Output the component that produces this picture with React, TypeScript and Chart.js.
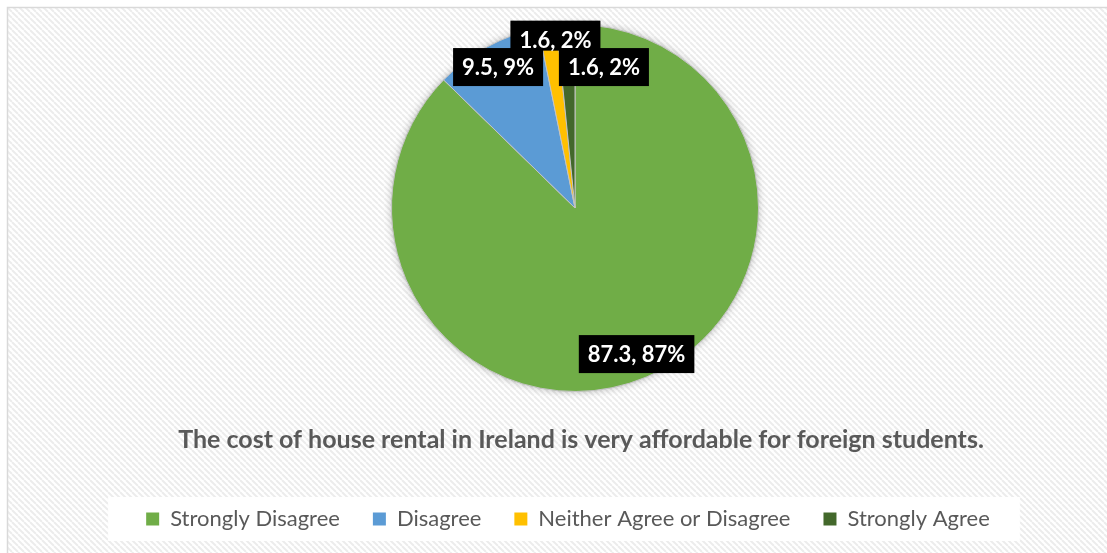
import React, { useEffect, useRef } from "react";
import { Chart, registerables } from "chart.js";

Chart.register(...registerables);

// ---------- data ----------
const categories = ["Strongly Disagree", "Disagree", "Neither Agree or Disagree", "Strongly Agree"];
const values = [87.3, 9.5, 1.6, 1.6];
const percentLabels = ["87%", "9%", "2%", "2%"];
const sliceColors = ["#70AD47", "#5B9BD5", "#FFC000", "#43682B"];
const chartTitle = "The cost of house rental in Ireland is very affordable for foreign students.";

// ---------- label placement (style, not data) ----------
const labelRadial = [0.864, 0.875, 0.928, 0.769];
const labelNudgeX = [0, 0, 6, 36];
const labelBoxH = [38, 38, 30, 38];
const labelDrawOrder = [2, 1, 3, 0];

const FONT = "Lato, 'Open Sans', 'DejaVu Sans', sans-serif";
const W = 1107;
const H = 553;
const LEGEND_FONT = 22;
const LEGEND_PAD = 33;
const LEGEND_SHIFT_X = -7;
const TITLE_SHIFT_X = 6;

function makePattern(ctx: CanvasRenderingContext2D) {
  const s = 6;
  const c = document.createElement("canvas");
  c.width = s;
  c.height = s;
  const p = c.getContext("2d")!;
  p.fillStyle = "#ffffff";
  p.fillRect(0, 0, s, s);
  p.strokeStyle = "#ececec";
  p.lineWidth = 2;
  for (const x0 of [-s, 0, s]) {
    p.beginPath();
    p.moveTo(x0, 0);
    p.lineTo(x0 + s, s);
    p.stroke();
  }
  return ctx.createPattern(c, "repeat")!;
}

const shiftPlugin = {
  id: "boxShift",
  afterLayout(chart: any) {
    if (chart.legend) {
      chart.legend.left += LEGEND_SHIFT_X;
      chart.legend.right += LEGEND_SHIFT_X;
    }
    if (chart.titleBlock) {
      chart.titleBlock.left += TITLE_SHIFT_X;
      chart.titleBlock.right += TITLE_SHIFT_X;
    }
  },
};

const backgroundPlugin = {
  id: "bgPlugin",
  beforeDraw(chart: any) {
    const ctx = chart.ctx as CanvasRenderingContext2D;
    ctx.save();
    ctx.fillStyle = "#ffffff";
    ctx.fillRect(0, 0, chart.width, chart.height);
    ctx.fillStyle = makePattern(ctx);
    ctx.fillRect(8, 8, chart.width, chart.height);
    ctx.strokeStyle = "#d9d9d9";
    ctx.lineWidth = 1.5;
    ctx.beginPath();
    ctx.moveTo(7.5, chart.height + 2);
    ctx.lineTo(7.5, 7.5);
    ctx.lineTo(chart.width + 2, 7.5);
    ctx.stroke();

    // white legend panel
    const lg = chart.legend;
    if (lg && lg.legendHitBoxes && lg.legendHitBoxes.length) {
      const hb = lg.legendHitBoxes;
      let minX = Infinity;
      let maxX = -Infinity;
      for (const b of hb) {
        minX = Math.min(minX, b.left);
        maxX = Math.max(maxX, b.left + b.width);
      }
      const cy = lg.top + LEGEND_PAD + LEGEND_FONT / 2;
      ctx.fillStyle = "#ffffff";
      ctx.fillRect(minX - 38, cy - 22, maxX - minX + 68, 44);
    }
    ctx.restore();
  },
};

const shadowPlugin = {
  id: "pieShadow",
  beforeDatasetsDraw(chart: any) {
    const meta = chart.getDatasetMeta(0);
    const arc = meta.data[0];
    if (!arc) return;
    const { x, y, outerRadius } = arc.getProps(["x", "y", "outerRadius"], true);
    const ctx = chart.ctx as CanvasRenderingContext2D;
    ctx.save();
    ctx.shadowColor = "rgba(0,0,0,0.35)";
    ctx.shadowBlur = 9;
    ctx.fillStyle = "#ffffff";
    ctx.beginPath();
    ctx.arc(x, y, outerRadius - 1, 0, Math.PI * 2);
    ctx.fill();
    ctx.restore();
  },
};

const labelPlugin = {
  id: "sliceLabels",
  afterDatasetsDraw(chart: any) {
    const meta = chart.getDatasetMeta(0);
    const ctx = chart.ctx as CanvasRenderingContext2D;
    const fs = 22;
    ctx.save();
    ctx.font = `bold ${fs}px ${FONT}`;
    ctx.textAlign = "center";
    ctx.textBaseline = "alphabetic";
    for (const i of labelDrawOrder) {
      const arc = meta.data[i];
      if (!arc) continue;
      const { x, y, startAngle, endAngle, outerRadius } = arc.getProps(
        ["x", "y", "startAngle", "endAngle", "outerRadius"],
        true
      );
      const mid = (startAngle + endAngle) / 2;
      const cx = x + Math.cos(mid) * outerRadius * labelRadial[i] + labelNudgeX[i];
      const cy = y + Math.sin(mid) * outerRadius * labelRadial[i];
      const text = `${values[i].toFixed(1)}, ${percentLabels[i]}`;
      const tw = ctx.measureText(text).width;
      const bw = tw + 18;
      ctx.fillStyle = "#000000";
      ctx.fillRect(cx - bw / 2, cy - 19, bw, labelBoxH[i]);
      ctx.fillStyle = "#ffffff";
      ctx.fillText(text, cx, cy + fs * 0.36);
    }
    ctx.restore();
  },
};

export default function App() {
  const canvasRef = useRef<HTMLCanvasElement | null>(null);

  useEffect(() => {
    let chart: Chart | null = null;
    let cancelled = false;
    const build = () => {
      if (cancelled || !canvasRef.current) return;
      const defaultGen = (Chart as any).overrides.pie.plugins.legend.labels.generateLabels;
      chart = new Chart(canvasRef.current, {
        type: "pie",
        data: {
          labels: categories,
          datasets: [
            {
              data: values,
              backgroundColor: sliceColors,
              borderColor: "#c4c4c4",
              borderWidth: 1,
            },
          ],
        },
        options: {
          responsive: false,
          animation: false,
          events: [],
          layout: { padding: { top: 24, left: 43, right: 0, bottom: 13 } },
          plugins: {
            tooltip: { enabled: false },
            title: {
              display: true,
              text: chartTitle,
              position: "bottom",
              weight: 500,
              color: "#595959",
              font: { family: FONT, size: 25, weight: "bold", lineHeight: 1.2 },
              padding: { top: 33, bottom: 20 },
            } as any,
            legend: {
              display: true,
              position: "bottom",
              labels: {
                boxWidth: 13,
                boxHeight: 13,
                padding: LEGEND_PAD,
                color: "#595959",
                font: { family: FONT, size: LEGEND_FONT },
                generateLabels: (c: any) =>
                  defaultGen(c).map((it: any) => ({ ...it, lineWidth: 0, strokeStyle: it.fillStyle })),
              },
            },
          },
        },
        plugins: [shiftPlugin, backgroundPlugin, shadowPlugin, labelPlugin],
      });
    };
    const fontsReady = (document as any).fonts
      ? Promise.all([
          (document as any).fonts.load(`bold 25px Lato`),
          (document as any).fonts.load(`22px Lato`),
        ]).catch(() => null)
      : Promise.resolve(null);
    fontsReady.then(build);
    return () => {
      cancelled = true;
      if (chart) chart.destroy();
    };
  }, []);

  return (
    <div style={{ position: "fixed", left: 0, top: 0, width: W, height: H, background: "#fff" }}>
      <canvas ref={canvasRef} width={W} height={H} style={{ display: "block", width: W, height: H }} />
    </div>
  );
}
